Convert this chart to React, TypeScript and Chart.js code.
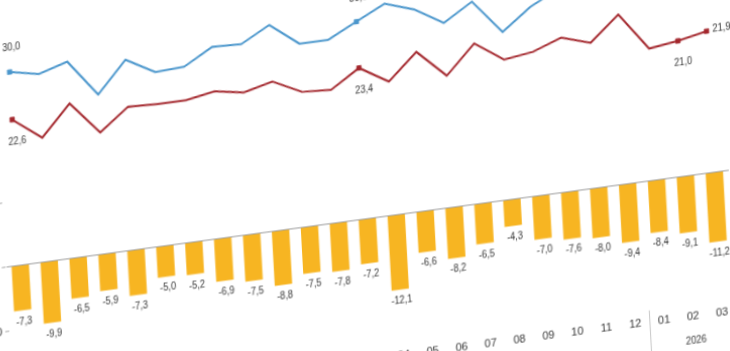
import React, { useEffect, useRef } from "react";
import { Chart, registerables } from "chart.js";

Chart.register(...registerables);

// ---- data ----
const months = ["03","04","05","06","07","08","09","10","11","12","01","02","03","04","05","06","07","08","09","10","11","12","01","02","03"];
const yearLabels = ["2024", "2025", "2026"];
const yearStarts = [0, 10, 22];
const imports = [30.0, 29.1, 30.4, 24.7, 29.5, 27.0, 27.2, 29.7, 29.5, 31.9, 28.4, 28.4, 30.6, 32.8, 31.3, 28.6, 31.3, 26.0, 29.3, 31.5, 30.5, 35.7, 28.8, 30.1, 33.1];
const exports = [22.6, 19.2, 23.9, 18.8, 22.2, 22.0, 22.0, 22.8, 22.0, 23.1, 20.9, 20.6, 23.4, 20.7, 24.7, 20.4, 24.8, 21.7, 22.3, 23.9, 22.5, 26.3, 20.4, 21.0, 21.9];
const balance = [-7.3, -9.9, -6.5, -5.9, -7.3, -5.0, -5.2, -6.9, -7.5, -8.8, -7.5, -7.8, -7.2, -12.1, -6.6, -8.2, -6.5, -4.3, -7.0, -7.6, -8.0, -9.4, -8.4, -9.1, -11.2];
const labeledPoints = [0, 12, 23, 24];

const FONT = "'Liberation Sans Narrow', 'Arial Narrow', 'Liberation Sans', Arial, sans-serif";
const TEXT = "#333333";
const BLUE = "#4a96cc";
const RED = "#a3262c";
const AMBER = "#f7b522";
const NARROW = 0.84;

const fmt = (v: number) => v.toFixed(1).replace(".", ",");

const W = 800;
const H = 446;

function narrowText(ctx: CanvasRenderingContext2D, text: string, x: number, y: number) {
  ctx.save();
  ctx.translate(x, y);
  ctx.scale(NARROW, 1);
  ctx.fillText(text, 0, 0);
  ctx.restore();
}

export default function App() {
  const ref = useRef<HTMLCanvasElement>(null);

  useEffect(() => {
    const canvas = ref.current;
    if (!canvas) return;

    const labelsPlugin = {
      id: "valueLabels",
      afterDatasetsDraw(chart: any) {
        const ctx = chart.ctx;
        ctx.save();
        ctx.font = `11px ${FONT}`;
        ctx.fillStyle = TEXT;
        ctx.textBaseline = "middle";
        ctx.textAlign = "center";
        const barMeta = chart.getDatasetMeta(2);
        barMeta.data.forEach((el: any, i: number) => {
          narrowText(ctx, fmt(balance[i]), el.x + 1, el.y + 11);
        });
        const impMeta = chart.getDatasetMeta(0);
        const expMeta = chart.getDatasetMeta(1);
        labeledPoints.forEach((i) => {
          const last = i === months.length - 1;
          const pb = impMeta.data[i];
          const pr = expMeta.data[i];
          if (last) {
            ctx.textAlign = "left";
            narrowText(ctx, fmt(imports[i]), pb.x + 6, pb.y - 1);
            narrowText(ctx, fmt(exports[i]), pr.x + 6, pr.y - 1);
            ctx.textAlign = "center";
          } else {
            narrowText(ctx, fmt(imports[i]), pb.x + 3, pb.y - 24);
            narrowText(ctx, fmt(exports[i]), pr.x + 4, pr.y + 22);
          }
        });
        ctx.restore();
      },
      afterDraw(chart: any) {
        const ctx = chart.ctx;
        const x = chart.scales.x;
        const area = chart.chartArea;
        ctx.save();
        ctx.font = `11px ${FONT}`;
        ctx.fillStyle = TEXT;
        ctx.textAlign = "center";
        ctx.textBaseline = "middle";
        yearLabels.forEach((yl, k) => {
          const from = yearStarts[k];
          const to = k + 1 < yearStarts.length ? yearStarts[k + 1] - 1 : months.length - 1;
          const cx = (x.getPixelForValue(from) + x.getPixelForValue(to)) / 2;
          narrowText(ctx, yl, cx + 2, area.bottom + 36);
          if (from > 0) {
            const sx = Math.round((x.getPixelForValue(from - 1) + x.getPixelForValue(from)) / 2) + 0.5;
            ctx.strokeStyle = "#c8c8c8";
            ctx.lineWidth = 1;
            ctx.beginPath();
            ctx.moveTo(sx, area.bottom);
            ctx.lineTo(sx, chart.height);
            ctx.stroke();
          }
        });
        ctx.restore();
      },
    };

    const chart = new Chart(canvas, {
      type: "bar",
      data: {
        labels: months,
        datasets: [
          {
            type: "line",
            label: "İthalat",
            data: imports,
            borderColor: BLUE,
            backgroundColor: BLUE,
            borderWidth: 2,
            tension: 0,
            pointStyle: "rect",
            pointRadius: (c: any) => (labeledPoints.includes(c.dataIndex) ? 3 : 0),
            pointBorderWidth: 1,
            yAxisID: "y",
            order: 0,
          },
          {
            type: "line",
            label: "İhracat",
            data: exports,
            borderColor: RED,
            backgroundColor: RED,
            borderWidth: 2,
            tension: 0,
            pointStyle: "rect",
            pointRadius: (c: any) => (labeledPoints.includes(c.dataIndex) ? 3 : 0),
            pointBorderWidth: 1,
            yAxisID: "y",
            order: 0,
          },
          {
            type: "bar",
            label: "Dış ticaret dengesi",
            data: balance,
            backgroundColor: AMBER,
            borderWidth: 0,
            barPercentage: 0.75,
            categoryPercentage: 0.8,
            yAxisID: "y1",
            order: 1,
          },
        ],
      },
      options: {
        responsive: false,
        animation: false,
        devicePixelRatio: 1,
        layout: { padding: { top: 10, left: 0, right: 37, bottom: 0 } },
        plugins: { legend: { display: false }, tooltip: { enabled: false }, title: { display: false } },
        scales: {
          x: {
            offset: true,
            grid: { display: false, drawTicks: false },
            border: { display: false },
            ticks: { autoSkip: false, maxRotation: 0, minRotation: 0, padding: 5, color: TEXT, font: { size: 11, family: FONT } },
            afterFit: (s: any) => { s.height = 50; },
          },
          y: {
            position: "left",
            min: -20,
            max: 40,
            ticks: { stepSize: 10, padding: 3, color: TEXT, font: { size: 11, family: FONT } },
            grid: {
              z: 1,
              color: (c: any) => (c.tick && c.tick.value === 0 ? "#9c9c9c" : "rgba(0,0,0,0)"),
              tickColor: "#a8a8a8",
              tickLength: 4,
              lineWidth: 1,
            },
            border: { display: true, color: "#a8a8a8", width: 1 },
            afterFit: (s: any) => { s.width = 40; },
          },
          y1: {
            display: false,
            min: -20.75,
            max: 41.5,
          },
        },
      },
      plugins: [labelsPlugin],
    } as any);

    return () => chart.destroy();
  }, []);

  return (
    <div style={{ position: "fixed", left: 0, top: 0, width: 730, height: 351, overflow: "hidden", background: "#fff" }}>
      <canvas
        ref={ref}
        width={W}
        height={H}
        style={{
          position: "absolute",
          left: -49,
          top: 4.5,
          width: W,
          height: H,
          transformOrigin: "0 0",
          transform: "matrix(1, -0.134, 0.055, 1, 0, 0)",
        }}
      />
    </div>
  );
}
